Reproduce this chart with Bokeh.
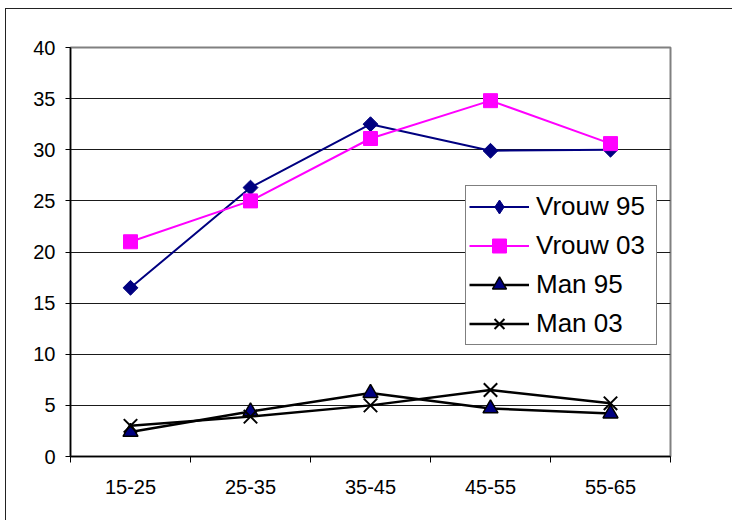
from bokeh.plotting import figure
from bokeh.models import Range1d, FixedTicker, Legend, LegendItem
from bokeh.embed import file_html
from bokeh.resources import INLINE

# Age groups and percentages per series
categories = ["15-25", "25-35", "35-45", "45-55", "55-65"]
vrouw_95 = [16.5, 26.3, 32.5, 29.9, 30.0]
vrouw_03 = [21.0, 25.0, 31.1, 34.8, 30.6]
man_95 = [2.4, 4.4, 6.2, 4.7, 4.2]
man_03 = [3.0, 3.9, 5.0, 6.5, 5.2]
y_ticks = [0, 5, 10, 15, 20, 25, 30, 35, 40]

FONT = "Liberation Sans"
NAVY = "#000080"
MAGENTA = "#FF00FF"

# Each category sits in the middle of its own unit-wide slot
xs = [i + 0.5 for i in range(len(categories))]

p = figure(
    width=727, height=512,
    frame_width=600, frame_height=409,
    min_border_left=64, min_border_top=38,
    min_border_right=63, min_border_bottom=65,
    x_range=Range1d(0, len(categories)), y_range=Range1d(0, 40),
    output_backend="svg", toolbar_location=None,
    margin=(8, 0, 0, 5),
)
p.styles = {"border-top": "1px solid #222222", "border-left": "1px solid #222222"}
p.background_fill_color = "white"
p.border_fill_color = "white"
p.outline_line_color = "#808080"
p.outline_line_width = 2

# Value axis
p.yaxis.ticker = FixedTicker(ticks=y_ticks, minor_ticks=[])
p.yaxis.major_tick_out = 5
p.yaxis.major_tick_in = 0
p.yaxis.major_label_standoff = 10
p.yaxis.major_label_text_font = FONT
p.yaxis.major_label_text_font_size = "20px"
p.yaxis.major_label_text_color = "black"
p.yaxis.axis_line_color = "black"
p.yaxis.axis_line_width = 1.5

# Category axis: labels centred in slots, tick marks on slot boundaries
p.xaxis.ticker = FixedTicker(ticks=xs, minor_ticks=list(range(len(categories) + 1)))
p.xaxis.major_label_overrides = {x: c for x, c in zip(xs, categories)}
p.xaxis.major_tick_line_color = None
p.xaxis.major_tick_out = 0
p.xaxis.major_tick_in = 0
p.xaxis.minor_tick_line_color = "black"
p.xaxis.minor_tick_out = 6
p.xaxis.minor_tick_in = 0
p.xaxis.major_label_standoff = 17
p.xaxis.major_label_text_font = FONT
p.xaxis.major_label_text_font_size = "20px"
p.xaxis.major_label_text_color = "black"
p.xaxis.axis_line_color = "black"
p.xaxis.axis_line_width = 1.5

p.xgrid.grid_line_color = None
p.ygrid.ticker = FixedTicker(ticks=y_ticks)
p.ygrid.grid_line_color = "#1a1a1a"
p.ygrid.grid_line_width = 1

# Series
l_v95 = p.line(xs, vrouw_95, line_color=NAVY, line_width=2)
p.scatter(xs, vrouw_95, marker="square", angle=0.7854, size=10.5,
          fill_color=NAVY, line_color=NAVY)

l_v03 = p.line(xs, vrouw_03, line_color=MAGENTA, line_width=2)
m_v03 = p.scatter(xs, vrouw_03, marker="square", size=14,
                  fill_color=MAGENTA, line_color=MAGENTA)

l_m95 = p.line(xs, man_95, line_color="black", line_width=2.5)
m_m95 = p.scatter(xs, man_95, marker="triangle", size=15,
                  fill_color=NAVY, line_color="black", line_width=1.5)

l_m03 = p.line(xs, man_03, line_color="black", line_width=2.5)
m_m03 = p.scatter(xs, man_03, marker="x", size=19,
                  line_color="black", line_width=2)

# Legend swatch for the diamond series (legend markers are drawn unrotated,
# so a hidden diamond renderer supplies the swatch)
sw_v95 = p.scatter(xs, vrouw_95, marker="diamond", size=14,
                   fill_color=NAVY, line_color=NAVY, visible=False)

legend = Legend(
    items=[
        LegendItem(label="Vrouw 95", renderers=[l_v95, sw_v95]),
        LegendItem(label="Vrouw 03", renderers=[l_v03, m_v03]),
        LegendItem(label="Man 95", renderers=[l_m95, m_m95]),
        LegendItem(label="Man 03", renderers=[l_m03, m_m03]),
    ],
    location=(395, 111),
    border_line_color="black",
    border_line_width=1,
    background_fill_color="white",
    background_fill_alpha=1,
    padding=3,
    margin=0,
    spacing=4,
    glyph_width=60,
    glyph_height=35,
    label_height=35,
    label_width=117,
    label_standoff=7,
    label_text_font=FONT,
    label_text_font_size="26px",
    label_text_color="black",
)
p.add_layout(legend)

open("out.html", "w").write(file_html(p, INLINE))
